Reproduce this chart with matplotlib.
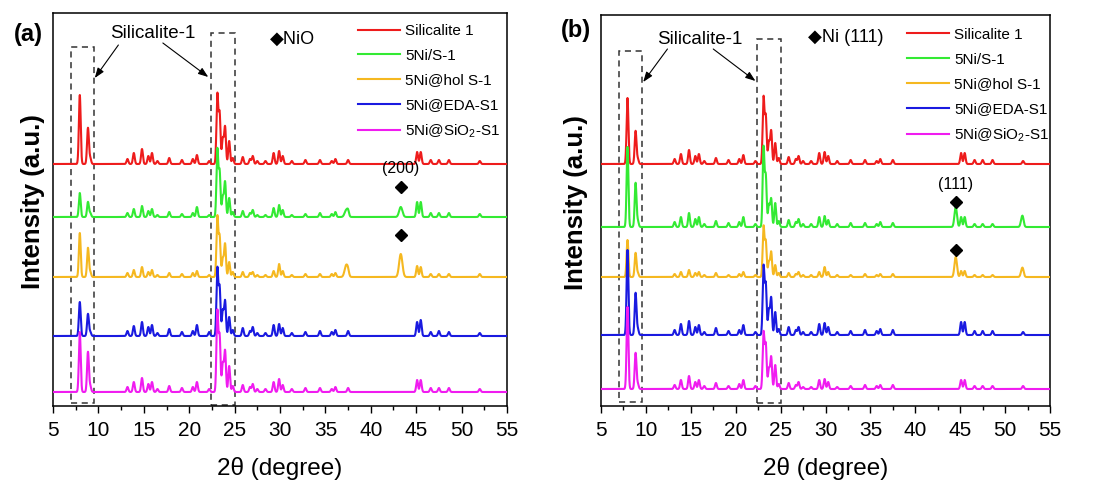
import numpy as np
import matplotlib
matplotlib.use("Agg")
import matplotlib.pyplot as plt
from matplotlib.patches import Rectangle

plt.rcParams['font.family'] = ['Liberation Sans', 'DejaVu Sans']
plt.rcParams['mathtext.fontset'] = 'custom'
plt.rcParams['mathtext.rm'] = 'Liberation Sans'
plt.rcParams['mathtext.it'] = 'Liberation Sans:italic'
plt.rcParams['mathtext.bf'] = 'Liberation Sans:bold'

# ---------------- data ----------------
labels = ["Silicalite 1", "5Ni/S-1", "5Ni@hol S-1", "5Ni@EDA-S1", "5Ni@SiO$_2$-S1"]
colors = ["#ee1c1c", "#33ea33", "#f5b820", "#1a1ae0", "#f01cf0"]

# MFI (silicalite-1) reflections, 2-theta in degrees
mfi_pos = [7.95, 8.85, 9.1, 13.2, 13.9, 14.8, 15.5, 15.9, 16.5, 17.8, 19.2, 20.4, 20.85, 22.2,
           23.1, 23.35, 23.7, 23.95, 24.4, 24.8, 25.9, 26.7, 27.0, 27.5, 28.4, 29.3, 29.9,
           30.3, 31.3, 32.8, 34.4, 35.7, 36.1, 37.5, 45.1, 45.5, 46.6, 47.5, 48.6, 52.0]

# panel (a): peak heights per sample
red_a = [69, 36, 6, 5, 11, 15, 8, 11, 3, 6, 4, 5, 9, 3, 69, 50, 25, 37, 23, 6,
         7, 5, 8, 3, 3, 11, 13, 8, 3, 4, 4, 3, 5, 4, 12, 12, 4, 4, 4, 3]
green_a = [24, 15, 4, 4, 8, 11, 6, 8, 2, 5, 3, 4, 10, 2, 67, 45, 20, 35, 19, 5,
           6, 4, 7, 2, 2, 9, 12, 7, 2, 3, 4, 3, 5, 4, 15, 15, 4, 4, 4, 3]
orange_a = [44, 29, 5, 4, 7, 10, 5, 7, 2, 4, 3, 4, 6, 2, 60, 40, 18, 33, 15, 5,
            5, 4, 5, 2, 2, 6, 13, 6, 2, 3, 3, 3, 4, 3, 11, 10, 3, 3, 3, 3]
blue_a = [34, 22, 4, 5, 10, 14, 9, 11, 3, 7, 4, 5, 11, 4, 67, 48, 25, 35, 19, 6,
          8, 5, 9, 3, 3, 11, 12, 8, 3, 4, 5, 4, 6, 5, 14, 16, 4, 5, 4, 3]
magenta_a = [60, 40, 6, 5, 10, 14, 8, 10, 3, 6, 4, 5, 10, 3, 80, 55, 28, 41, 26, 6,
             7, 5, 8, 3, 3, 10, 13, 7, 3, 4, 4, 3, 5, 4, 12, 12, 4, 4, 4, 3]

# NiO reflections (111), (200)
nio_pos = [37.3, 43.3]
nio_green = [7, 10]
nio_orange = [12, 23]

# panel (b): peak heights per sample
red_b = [66, 33, 5, 5, 10, 14, 8, 10, 3, 6, 4, 5, 9, 3, 66, 47, 22, 33, 21, 6,
         7, 5, 8, 3, 3, 11, 12, 8, 3, 4, 4, 3, 5, 4, 11, 11, 4, 4, 4, 3]
green_b = [80, 44, 6, 5, 10, 14, 8, 10, 3, 6, 4, 5, 10, 3, 79, 50, 22, 28, 24, 6,
           7, 5, 8, 3, 3, 10, 11, 7, 3, 4, 4, 3, 5, 4, 10, 10, 3, 3, 3, 2]
orange_b = [37, 24, 4, 3, 5, 7, 4, 5, 2, 4, 2, 3, 5, 2, 50, 35, 15, 25, 12, 4,
            4, 3, 5, 2, 2, 5, 10, 5, 2, 2, 3, 2, 3, 3, 6, 6, 2, 2, 2, 2]
blue_b = [85, 42, 6, 5, 11, 14, 8, 10, 3, 7, 4, 5, 10, 3, 68, 50, 25, 37, 23, 6,
          8, 5, 8, 3, 3, 11, 12, 8, 3, 4, 5, 4, 6, 5, 13, 13, 4, 4, 4, 3]
magenta_b = [82, 36, 5, 4, 9, 13, 7, 9, 3, 6, 3, 5, 9, 3, 56, 44, 20, 32, 24, 5,
             6, 4, 7, 2, 2, 9, 10, 7, 2, 3, 4, 3, 4, 4, 9, 9, 3, 3, 3, 3]

# metallic Ni reflections (111), (200)
ni_pos = [44.5, 51.9]
ni_green = [20, 10]
ni_orange = [20, 8]

# vertical offsets of the stacked patterns
offsets_a = [242, 189, 129, 70, 14]
offsets_b = [242, 179, 129, 71, 17]

two_theta = np.linspace(5, 55, 5001)


def pattern(pos, heights, width):
    y = np.zeros_like(two_theta)
    for p, h in zip(pos, heights):
        y += h * np.exp(-0.5 * ((two_theta - p) / width) ** 2)
    return y


fig = plt.figure(figsize=(11.03, 4.82), dpi=100)
ax_a = fig.add_axes([53 / 1103, 76 / 482, 454 / 1103, 393 / 482])
ax_b = fig.add_axes([601 / 1103, 76 / 482, 449 / 1103, 391 / 482])


def style_axis(ax, ytop, ylabel_x):
    ax.set_xlim(5, 55)
    ax.set_ylim(0, ytop)
    ax.set_xticks(np.arange(5, 56, 5))
    ax.set_xticks(np.arange(7.5, 55, 5), minor=True)
    ax.set_yticks([])
    ax.tick_params(axis='x', which='major', direction='out', length=5, width=1,
                   labelsize=15, pad=6)
    ax.tick_params(axis='x', which='minor', direction='out', length=3, width=1)
    for s in ax.spines.values():
        s.set_linewidth(1.1)
    ax.set_xlabel("2θ (degree)", fontsize=17.5, labelpad=12)
    ax.set_ylabel("Intensity (a.u.)", fontsize=18.5, fontweight='bold')
    ax.yaxis.set_label_coords(ylabel_x, 0.52)


def draw_box(ax, x0, x1, y0, y1):
    ax.add_patch(Rectangle((x0, y0), x1 - x0, y1 - y0, fill=False, ec='#333333',
                           lw=1.1, ls=(0, (4, 3)), zorder=1))


def arrow(ax, xy_from, xy_to):
    ax.annotate("", xy=xy_to, xytext=xy_from,
                arrowprops=dict(arrowstyle='-|>,head_length=0.6,head_width=0.22',
                                color='black', lw=0.8, shrinkA=0, shrinkB=0))


# ---------------- panel (a) ----------------
series_a = [red_a, green_a, orange_a, blue_a, magenta_a]
extra_a = [None, nio_green, nio_orange, None, None]
for lab, col, hts, extra, off in zip(labels, colors, series_a, extra_a, offsets_a):
    y = pattern(mfi_pos, hts, 0.1)
    if extra is not None:
        y += pattern(nio_pos, extra, 0.18)
    ax_a.plot(two_theta, y + off, color=col, lw=1.5, label=lab, zorder=3)

style_axis(ax_a, 393, -0.017)
draw_box(ax_a, 7.0, 9.5, 3, 359)
draw_box(ax_a, 22.4, 25.0, 1, 373)
ax_a.text(16.0, 373, "Silicalite-1", fontsize=13.5, ha='center', va='center')
arrow(ax_a, (12.2, 361), (9.6, 328))
arrow(ax_a, (17.1, 363), (22.1, 329))
ax_a.text(28.9, 367, "◆NiO", fontsize=13, ha='left', va='center')
ax_a.plot(nio_pos[1], offsets_a[1] + nio_green[1] + 20, marker='D', ms=6.5,
          color='black', zorder=4)
ax_a.plot(nio_pos[1], offsets_a[2] + nio_orange[1] + 19, marker='D', ms=6.5,
          color='black', zorder=4)
ax_a.text(nio_pos[1], offsets_a[1] + nio_green[1] + 38, "(200)", fontsize=11.5,
          ha='center', va='center')
ax_a.legend(loc='upper left', bbox_to_anchor=(0.665, 0.98), frameon=False,
            fontsize=11, handlelength=2.75, handletextpad=0.35, labelspacing=0.7,
            borderaxespad=0, borderpad=0.2)
fig.text(28 / 1103, 1 - 35 / 482, "(a)", fontsize=17, fontweight='bold',
         ha='center', va='center')

# ---------------- panel (b) ----------------
series_b = [red_b, green_b, orange_b, blue_b, magenta_b]
extra_b = [None, ni_green, ni_orange, None, None]
for lab, col, hts, extra, off in zip(labels, colors, series_b, extra_b, offsets_b):
    y = pattern(mfi_pos, hts, 0.1)
    if extra is not None:
        y += pattern(ni_pos, extra, 0.14)
    ax_b.plot(two_theta, y + off, color=col, lw=1.5, label=lab, zorder=3)

style_axis(ax_b, 391, -0.029)
draw_box(ax_b, 7.0, 9.6, 4, 355)
draw_box(ax_b, 22.4, 25.0, 3, 367)
ax_b.text(16.0, 367, "Silicalite-1", fontsize=13.5, ha='center', va='center')
arrow(ax_b, (12.4, 357), (9.7, 324))
arrow(ax_b, (17.5, 357), (22.2, 325))
ax_b.text(28.0, 369, "◆Ni (111)", fontsize=13, ha='left', va='center')
ax_b.plot(ni_pos[0], offsets_b[1] + ni_green[0] + 5, marker='D', ms=6.5,
          color='black', zorder=4)
ax_b.plot(ni_pos[0], offsets_b[2] + ni_orange[0] + 7, marker='D', ms=6.5,
          color='black', zorder=4)
ax_b.text(ni_pos[0], offsets_b[1] + ni_green[0] + 23, "(111)", fontsize=11.5,
          ha='center', va='center')
ax_b.legend(loc='upper left', bbox_to_anchor=(0.675, 0.975), frameon=False,
            fontsize=11, handlelength=2.75, handletextpad=0.35, labelspacing=0.7,
            borderaxespad=0, borderpad=0.2)
fig.text(576 / 1103, 1 - 30 / 482, "(b)", fontsize=17, fontweight='bold',
         ha='center', va='center')

fig.savefig("out.png", dpi=100)
